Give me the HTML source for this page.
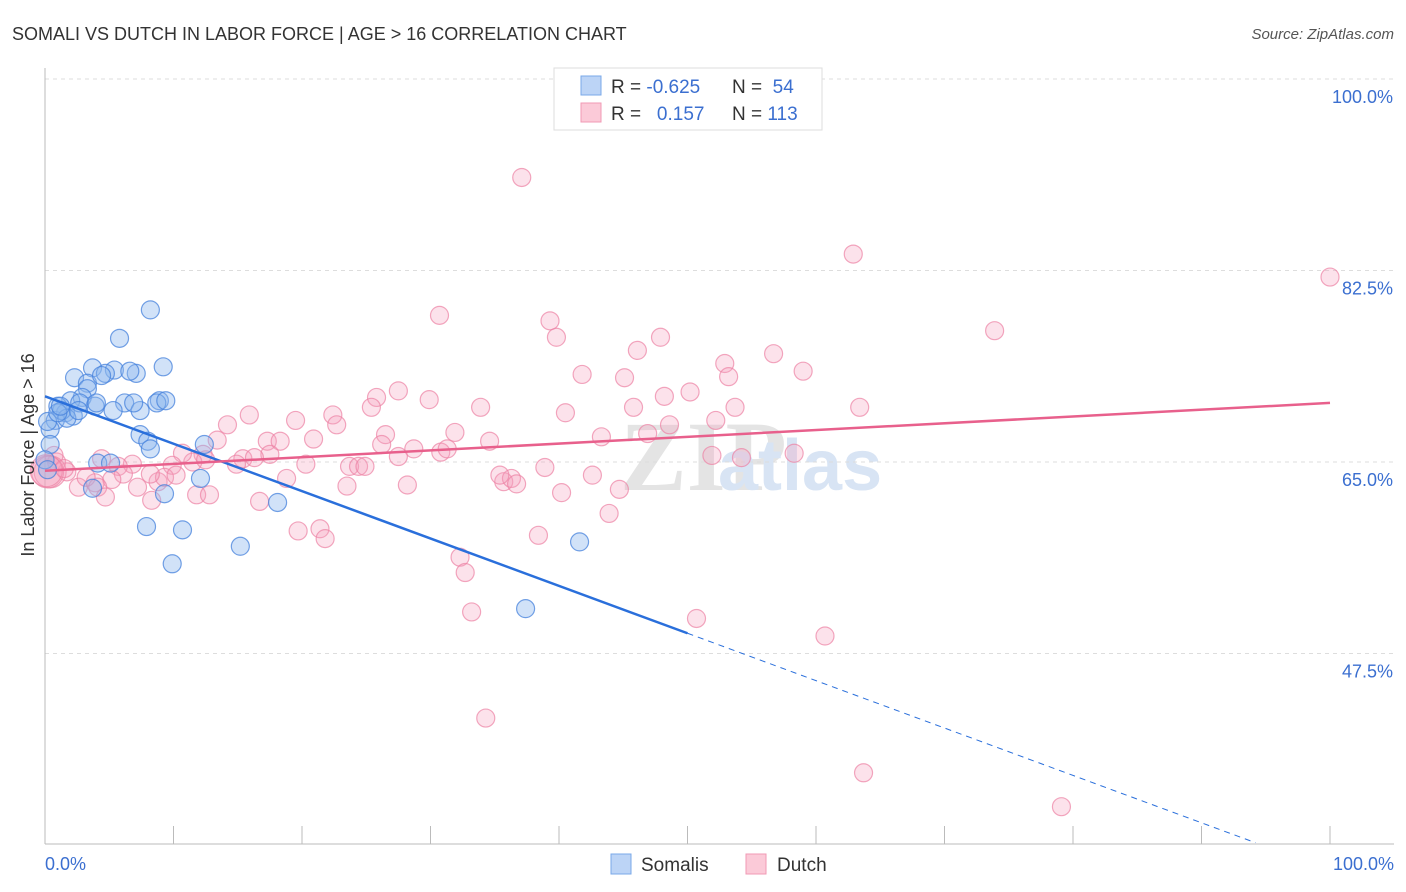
<!DOCTYPE html>
<html><head><meta charset="utf-8"><style>
body{margin:0;background:#fff;font-family:"Liberation Sans",sans-serif;}
#wrap{position:relative;width:1406px;height:892px;}
</style></head><body>
<div id="wrap">
<svg id="chart" width="1406" height="892" style="position:absolute;left:0;top:0">
<text x="12" y="40" font-size="18" fill="#333">SOMALI VS DUTCH IN LABOR FORCE | AGE &gt; 16 CORRELATION CHART</text>
<text x="1394" y="39" font-size="15" fill="#555" font-style="italic" text-anchor="end">Source: ZipAtlas.com</text>
<text x="620" y="490" font-size="100" fill="#e4e4e4" font-family="Liberation Serif" font-weight="bold">ZIP</text>
<text x="718" y="490" font-size="72" fill="#d8e4f4" font-weight="bold">atlas</text>
<g id="grid"></g><g id="axes"></g><g id="marks"></g>
<text transform="translate(34,455) rotate(-90)" font-size="18" fill="#333" text-anchor="middle">In Labor Force | Age &gt; 16</text>
<g>
<rect x="554" y="68" width="268" height="62" fill="#fff" stroke="#ddd"/>
<rect x="581" y="76" width="20" height="19" fill="#bcd4f6" stroke="#7aa8e8"/>
<rect x="581" y="103" width="20" height="19" fill="#fbcad8" stroke="#f09ab4"/>
<text x="611" y="93" font-size="19" fill="#333">R = <tspan fill="#3b6fd0">-0.625</tspan></text>
<text x="732" y="93" font-size="19" fill="#333">N = <tspan fill="#3b6fd0">&#160;54</tspan></text>
<text x="611" y="120" font-size="19" fill="#333">R = <tspan fill="#3b6fd0">&#160;&#160;0.157</tspan></text>
<text x="732" y="120" font-size="19" fill="#333">N = <tspan fill="#3b6fd0">113</tspan></text>
</g>
<g>
<rect x="611" y="854" width="20" height="20" fill="#bcd4f6" stroke="#7aa8e8"/>
<text x="641" y="871" font-size="19" fill="#333">Somalis</text>
<rect x="746" y="854" width="20" height="20" fill="#fbcad8" stroke="#f09ab4"/>
<text x="777" y="871" font-size="19" fill="#333">Dutch</text>
</g>
</svg>
</div>
<script>
const yTicks=[100,82.5,65,47.5];
const yTickLabels=["100.0%","82.5%","65.0%","47.5%"];
const xEndLabels=["0.0%","100.0%"];
const somaliX=[8.2,5.8,3.7,5.4,4.7,2.3,7.1,9.2,3.3,3.3,4.4,2.9,2.0,3.9,6.2,8.9,8.7,5.3,7.4,1.0,1.6,2.2,0.8,0.4,1.3,2.7,7.4,8.0,8.2,12.4,4.1,5.1,12.1,9.3,3.7,18.1,7.9,10.7,15.2,9.9,41.6,37.4,0.4,0.0,0.2,1.7,1.0,2.6,4.0,6.9,9.4,0.2,1.2,6.6];
const somaliY=[78.9,76.3,73.6,73.4,73.1,72.7,73.1,73.7,72.2,71.7,72.9,70.9,70.6,70.1,70.4,70.6,70.4,69.7,69.7,70.1,69.5,69.2,68.8,68.0,69.7,70.4,67.5,66.9,66.2,66.6,64.9,64.9,63.5,62.1,62.6,61.3,59.1,58.8,57.3,55.7,57.7,51.6,66.6,65.2,68.7,69.0,69.5,69.7,70.4,70.4,70.6,64.3,70.1,73.3];
const dutchX=[37.1,62.9,100,30.7,39.3,39.8,47.9,46.1,73.9,56.7,52.9,59.0,41.8,45.1,27.5,25.8,53.2,50.2,48.2,45.8,40.5,33.9,29.9,25.4,63.4,53.7,15.9,19.5,22.4,22.7,14.2,48.6,52.2,31.9,26.5,26.2,28.7,27.5,30.8,31.3,34.6,43.3,46.9,20.9,17.3,18.3,17.5,20.3,15.4,12.3,13.4,51.9,54.2,58.3,38.9,42.6,44.7,35.7,36.3,36.7,40.2,43.9,28.2,23.5,18.8,16.3,14.9,11.5,10.7,9.9,8.8,6.8,5.7,6.1,5.2,3.9,2.6,1.7,0.9,0.7,0.4,3.2,4.1,4.7,7.2,8.3,11.8,12.8,16.7,19.7,21.4,21.8,38.4,32.3,32.7,33.2,50.7,60.7,34.3,63.7,79.1,0.2,4.4,9.3,10.2,12.5,23.7,24.4,24.9,8.2,0.1,35.4,1.5];
const dutchY=[91.0,84.0,81.9,78.4,77.9,76.4,76.4,75.2,77.0,74.9,74.0,73.3,73.0,72.7,71.5,70.9,72.8,71.4,71.0,70.0,69.5,70.0,70.7,70.0,70.0,70.0,69.3,68.8,69.3,68.4,68.4,68.4,68.8,67.7,67.5,66.6,66.2,65.5,65.9,66.2,66.9,67.3,67.6,67.1,66.9,66.9,65.7,64.8,65.3,65.7,67.0,65.6,65.4,65.8,64.5,63.8,62.5,63.2,63.5,63.0,62.2,60.3,62.9,62.8,63.5,65.4,64.8,65.0,65.8,64.7,63.2,64.8,64.6,63.9,63.4,63.1,62.7,64.1,65.0,65.6,64.1,63.6,62.7,61.8,62.7,61.5,62.0,62.0,61.4,58.7,58.9,58.0,58.3,56.3,54.9,51.3,50.7,49.1,41.6,36.6,33.5,64.1,65.3,63.6,63.8,65.2,64.6,64.6,64.6,63.9,64.2,63.8,64.4];
const somaliTrend=[71.0,-0.433];
const dutchTrend=[64.2,0.062];
const X0=45,X1=1330,YT=79,PXPER=10.943;
const xs=v=>X0+(X1-X0)*v/100;
const ys=v=>YT+(100-v)*PXPER;
const NS="http://www.w3.org/2000/svg";
function mk(tag,attrs,parent){const e=document.createElementNS(NS,tag);for(const k in attrs)e.setAttribute(k,attrs[k]);document.getElementById(parent).appendChild(e);return e;}
yTicks.forEach((t,i)=>{
 const l=mk('line',{x1:45,x2:1394,y1:ys(t),y2:ys(t),stroke:'#ddd','stroke-dasharray':'4,4'},'grid');
 
 
 const tx=mk('text',{x:1393,y:ys(t)+24,'font-size':18,fill:'#3b6fd0','text-anchor':'end'},'axes');
 tx.textContent=yTickLabels[i];
 
 
});
const ax=mk('line',{x1:45,x2:45,y1:68,y2:844,stroke:'#bbb'},'axes');


const bx=mk('line',{x1:45,x2:1394,y1:844,y2:844,stroke:'#bbb'},'axes');


for(let i=1;i<=10;i++){
 const tk=mk('line',{x1:xs(i*10),x2:xs(i*10),y1:826,y2:844,stroke:'#bbb'},'axes');
 
 
}
[[0,'start',45],[100,'end',1394]].forEach((a,i)=>{
 const t=mk('text',{x:a[2],y:870,'font-size':18,fill:'#3b6fd0','text-anchor':a[1]},'axes');
 t.textContent=xEndLabels[i];
 
 
});
dutchX.forEach((x,i)=>{
 const big=(x<1&&Math.abs(dutchY[i]-64)<1);
 const c=mk('circle',{cx:xs(x),cy:ys(dutchY[i]),r:big?16:9,fill:'rgba(246,160,188,0.3)',stroke:'rgba(236,130,164,0.7)','stroke-width':1.2},'marks');
 
 
});
somaliX.forEach((x,i)=>{
 const c=mk('circle',{cx:xs(x),cy:ys(somaliY[i]),r:9,fill:'rgba(140,182,238,0.4)',stroke:'rgba(70,130,220,0.75)','stroke-width':1.2},'marks');
 
 
});
const sEnd=50,sDash=94.2;
const sl=mk('line',{x1:xs(0),y1:ys(somaliTrend[0]),x2:xs(sEnd),y2:ys(somaliTrend[0]+somaliTrend[1]*sEnd),stroke:'#2a6fdb','stroke-width':2.5},'marks');


const sd=mk('line',{x1:xs(sEnd),y1:ys(somaliTrend[0]+somaliTrend[1]*sEnd),x2:xs(sDash),y2:ys(somaliTrend[0]+somaliTrend[1]*sDash),stroke:'#2a6fdb','stroke-width':1,'stroke-dasharray':'6,5'},'marks');


const dl=mk('line',{x1:xs(0),y1:ys(dutchTrend[0]),x2:xs(100),y2:ys(dutchTrend[0]+dutchTrend[1]*100),stroke:'#e8608c','stroke-width':2.5},'marks');


</script>
</body></html>
